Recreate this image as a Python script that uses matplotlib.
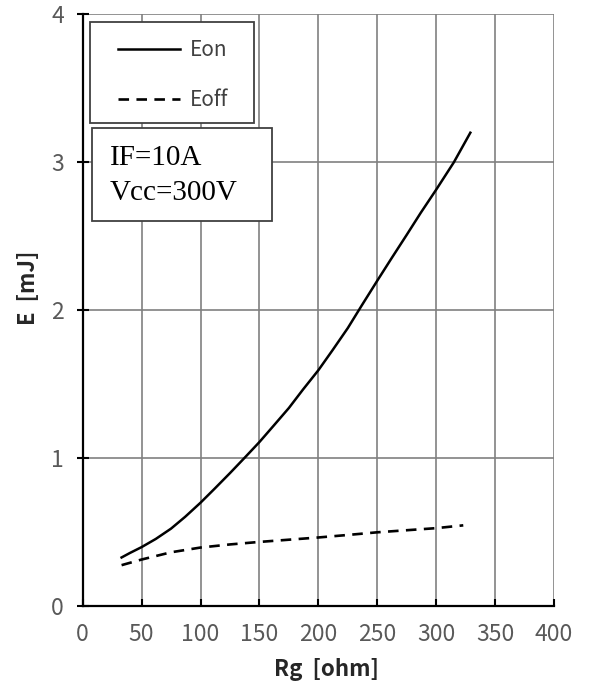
import matplotlib
matplotlib.use('Agg')
import matplotlib.pyplot as plt
from matplotlib.patches import Rectangle

plt.rcParams['font.family'] = ['Noto Sans CJK SC', 'DejaVu Sans']

# Eon / Eoff vs gate resistance
rg_on = [33, 40, 50, 62, 75, 87, 100, 112, 125, 137, 150, 162, 175, 187,
         200, 212, 225, 237, 250, 262, 275, 287, 300, 315, 329]
e_on = [0.33, 0.36, 0.40, 0.455, 0.525, 0.605, 0.70, 0.795, 0.90, 1.00, 1.11,
        1.22, 1.34, 1.465, 1.595, 1.73, 1.88, 2.035, 2.20, 2.35, 2.51, 2.66,
        2.815, 3.00, 3.20]
rg_off = [33, 50, 75, 100, 125, 150, 175, 200, 225, 250, 275, 300, 323]
e_off = [0.278, 0.316, 0.365, 0.397, 0.418, 0.435, 0.45, 0.465, 0.482,
         0.50, 0.514, 0.528, 0.547]
x_ticks = [0, 50, 100, 150, 200, 250, 300, 350, 400]
y_ticks = [0, 1, 2, 3, 4]
conditions = ['IF=10A', 'Vcc=300V']

W, H = 589, 684
fig = plt.figure(figsize=(W / 100, H / 100), dpi=100)
# axes box in pixels: x 82.7..554, y 14.3..606.3
L, R, T, B = 82.7, 554.0, 14.3, 606.3
ax = fig.add_axes([L / W, 1 - B / H, (R - L) / W, (B - T) / H])


def ax_xy(px, py):
    """pixel position -> axes fraction"""
    return (px - L) / (R - L), (B - py) / (B - T)


ax.plot(rg_on, e_on, color='black', lw=1.8, label='Eon', zorder=3)
ax.plot(rg_off, e_off, color='black', lw=1.9, dashes=(4, 2.8), label='Eoff', zorder=3)

ax.set_xlim(0, 400)
ax.set_ylim(0, 4)
ax.set_xticks(x_ticks)
ax.set_yticks(y_ticks)
ax.grid(True, color='#808080', lw=1.2)
ax.set_axisbelow(True)
for s in ('top', 'right'):
    ax.spines[s].set_visible(False)
for s in ('left', 'bottom'):
    ax.spines[s].set_linewidth(1.6)
ax.tick_params(axis='x', direction='in', length=5, width=1.5, pad=12,
               labelsize=16.5, labelcolor='#595959')
ax.tick_params(axis='y', direction='inout', length=9, width=1.5, pad=9,
               labelsize=16.5, labelcolor='#595959')

ax.set_xlabel('Rg  [ohm]', fontsize=16, fontweight='bold', color='#262626')
ax.set_ylabel('E  [mJ]', fontsize=16, fontweight='bold', color='#262626')
ax.xaxis.set_label_coords(*ax_xy(326, 658))
ax.yaxis.set_label_coords(*ax_xy(40, 288))

# legend box
x0, y0 = ax_xy(90, 123)
x1, y1 = ax_xy(254, 22)
ax.add_patch(Rectangle((x0, y0), x1 - x0, y1 - y0, transform=ax.transAxes,
                       facecolor='white', edgecolor='#404040', lw=1.3, zorder=4))
cx, cy = ax_xy(173, 75)
leg = ax.legend(loc='center', bbox_to_anchor=(cx, cy), frameon=False,
                fontsize=15, handlelength=3.0, handletextpad=0.45,
                labelspacing=1.35, labelcolor='#404040')
leg.set_zorder(5)

# condition box
x0, y0 = ax_xy(92, 221)
x1, y1 = ax_xy(272, 128)
ax.add_patch(Rectangle((x0, y0), x1 - x0, y1 - y0, transform=ax.transAxes,
                       facecolor='white', edgecolor='#404040', lw=1.3, zorder=4))
for i, txt in enumerate(conditions):
    tx, ty = ax_xy(110, 165 + 35 * i)
    ax.text(tx, ty, txt, transform=ax.transAxes, va='baseline', ha='left',
            fontsize=21, family='Liberation Serif', color='black', zorder=6)

fig.savefig('out.png', dpi=100)
